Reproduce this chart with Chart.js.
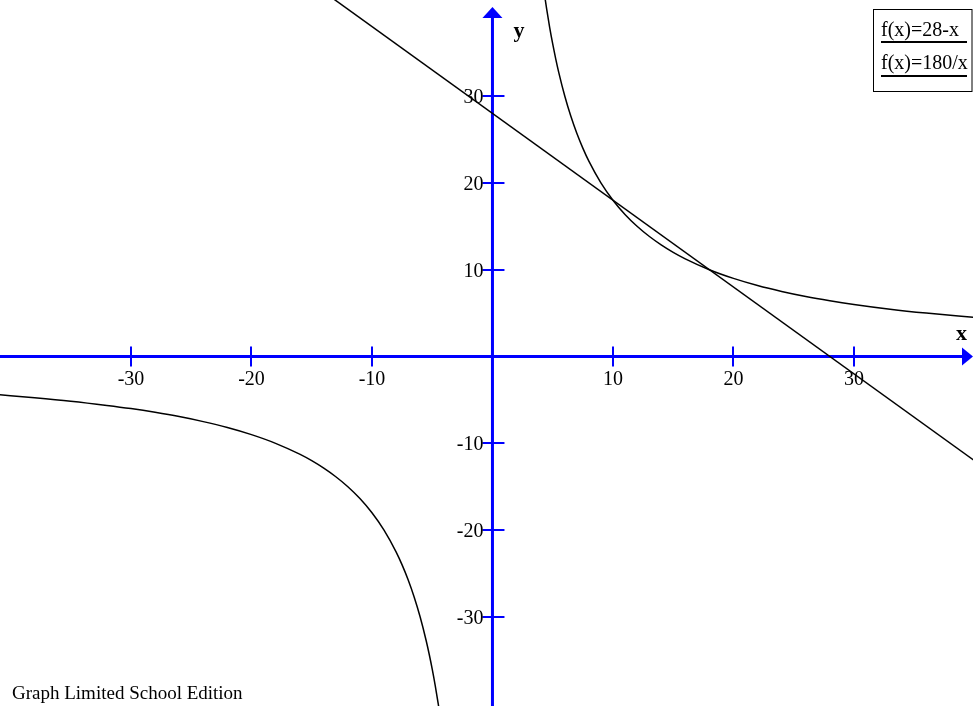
<!DOCTYPE html>
<html><head><meta charset="utf-8">
<script src="https://cdn.jsdelivr.net/npm/chart.js@4"></script>
<style>html,body{margin:0;padding:0;background:#fff;overflow:hidden}canvas{display:block}</style>
</head><body>
<canvas id="c" width="973" height="706"></canvas>
<script>
// ---- data ----
const xRange = [-40.87, 39.88];
const yRange = [-40.25, 41.06];
const xTicks = [-30, -20, -10, 10, 20, 30];
const xTickLabels = ['-30', '-20', '-10', '10', '20', '30'];
const yTicks = [30, 20, 10, -10, -20, -30];
const yTickLabels = ['30', '20', '10', '-10', '-20', '-30'];
const legendLabels = ['f(x)=28-x', 'f(x)=180/x'];
const footerText = 'Graph Limited School Edition';

// straight line f(x)=28-x
const lineX = [-13.5, 40.5];
const lineY = [41.5, -12.5];

// hyperbola f(x)=180/x, right branch
const hypPosX = [4.3, 4.5, 4.75, 5, 5.25, 5.5, 6, 6.5, 7, 7.5, 8, 9, 10, 11, 12, 13, 14, 15, 16, 18, 20, 22, 24, 26, 28, 30, 33, 36, 40];
const hypPosY = [41.86, 40, 37.89, 36, 34.29, 32.73, 30, 27.69, 25.71, 24, 22.5, 20, 18, 16.36, 15, 13.85, 12.86, 12, 11.25, 10, 9, 8.18, 7.5, 6.92, 6.43, 6, 5.45, 5, 4.5];
// left branch
const hypNegX = [-41, -38, -35, -32, -30, -28, -26, -24, -22, -20, -18, -16, -15, -14, -13, -12, -11, -10, -9, -8, -7.5, -7, -6.5, -6, -5.5, -5.25, -5, -4.75, -4.5, -4.3];
const hypNegY = [-4.39, -4.74, -5.14, -5.63, -6, -6.43, -6.92, -7.5, -8.18, -9, -10, -11.25, -12, -12.86, -13.85, -15, -16.36, -18, -20, -22.5, -24, -25.71, -27.69, -30, -32.73, -34.29, -36, -37.89, -40, -41.86];

const toPts = (xs, ys) => xs.map((v, i) => ({x: v, y: ys[i]}));

const SERIF = '"Liberation Serif", "Times New Roman", serif';

const axesPlugin = {
  id: 'axesPlugin',
  beforeDatasetsDraw(chart) {
    const {ctx, scales: {x, y}, width, height} = chart;
    const x0 = x.getPixelForValue(0), y0 = y.getPixelForValue(0);
    ctx.save();
    ctx.strokeStyle = '#0000ff';
    ctx.fillStyle = '#0000ff';
    ctx.lineWidth = 3;
    // x axis
    ctx.beginPath(); ctx.moveTo(0, y0); ctx.lineTo(width - 10, y0); ctx.stroke();
    ctx.beginPath(); ctx.moveTo(width, y0); ctx.lineTo(width - 11, y0 - 9); ctx.lineTo(width - 11, y0 + 9); ctx.closePath(); ctx.fill();
    // y axis
    ctx.beginPath(); ctx.moveTo(x0, height); ctx.lineTo(x0, 17); ctx.stroke();
    ctx.beginPath(); ctx.moveTo(x0, 7); ctx.lineTo(x0 - 10, 18); ctx.lineTo(x0 + 10, 18); ctx.closePath(); ctx.fill();
    // tick marks
    ctx.lineWidth = 2;
    xTicks.forEach(v => {
      const px = Math.round(x.getPixelForValue(v));
      ctx.beginPath(); ctx.moveTo(px, y0 - 10); ctx.lineTo(px, y0 + 10); ctx.stroke();
    });
    yTicks.forEach(v => {
      const py = Math.round(y.getPixelForValue(v));
      ctx.beginPath(); ctx.moveTo(x0 - 10, py); ctx.lineTo(x0 + 12, py); ctx.stroke();
    });
    // tick labels
    ctx.fillStyle = '#000';
    ctx.font = '20px ' + SERIF;
    ctx.textBaseline = 'alphabetic';
    ctx.textAlign = 'center';
    xTicks.forEach((v, i) => {
      ctx.fillText(xTickLabels[i], x.getPixelForValue(v), y0 + 28);
    });
    ctx.textAlign = 'right';
    yTicks.forEach((v, i) => {
      ctx.fillText(yTickLabels[i], x0 - 9, y.getPixelForValue(v) + 7);
    });
    // axis names
    ctx.font = 'bold 22px ' + SERIF;
    ctx.textAlign = 'left';
    ctx.fillText('y', x0 + 21, 37);
    ctx.fillText('x', width - 17, y0 - 17);
    ctx.restore();
  },
  afterDraw(chart) {
    const {ctx} = chart;
    ctx.save();
    // legend box
    ctx.fillStyle = '#fff';
    ctx.fillRect(873, 9, 100, 83);
    ctx.strokeStyle = '#000';
    ctx.lineWidth = 1;
    ctx.strokeRect(873.5, 9.5, 98.5, 82);
    ctx.fillStyle = '#000';
    ctx.font = '20px ' + SERIF;
    ctx.textAlign = 'left';
    ctx.textBaseline = 'alphabetic';
    const base = [36, 69];
    const under = [42, 76];
    legendLabels.forEach((t, i) => {
      ctx.fillText(t, 881, base[i]);
      ctx.lineWidth = 2;
      ctx.beginPath(); ctx.moveTo(881, under[i]); ctx.lineTo(967, under[i]); ctx.stroke();
    });
    // footer
    ctx.font = '19px ' + SERIF;
    ctx.fillText(footerText, 12, 699);
    ctx.restore();
  }
};

const common = {showLine: true, borderColor: '#000', borderWidth: 1.5, pointRadius: 0, fill: false, cubicInterpolationMode: 'monotone'};

new Chart(document.getElementById('c'), {
  type: 'scatter',
  data: {
    datasets: [
      Object.assign({label: legendLabels[0], data: toPts(lineX, lineY)}, common),
      Object.assign({label: legendLabels[1], data: toPts(hypPosX, hypPosY)}, common),
      Object.assign({label: legendLabels[1] + ' ', data: toPts(hypNegX, hypNegY)}, common)
    ]
  },
  options: {
    responsive: false,
    animation: false,
    layout: {padding: 0},
    plugins: {legend: {display: false}, tooltip: {enabled: false}, title: {display: false}},
    scales: {
      x: {type: 'linear', display: false, min: xRange[0], max: xRange[1]},
      y: {type: 'linear', display: false, min: yRange[0], max: yRange[1]}
    }
  },
  plugins: [axesPlugin]
});
</script>
</body></html>
